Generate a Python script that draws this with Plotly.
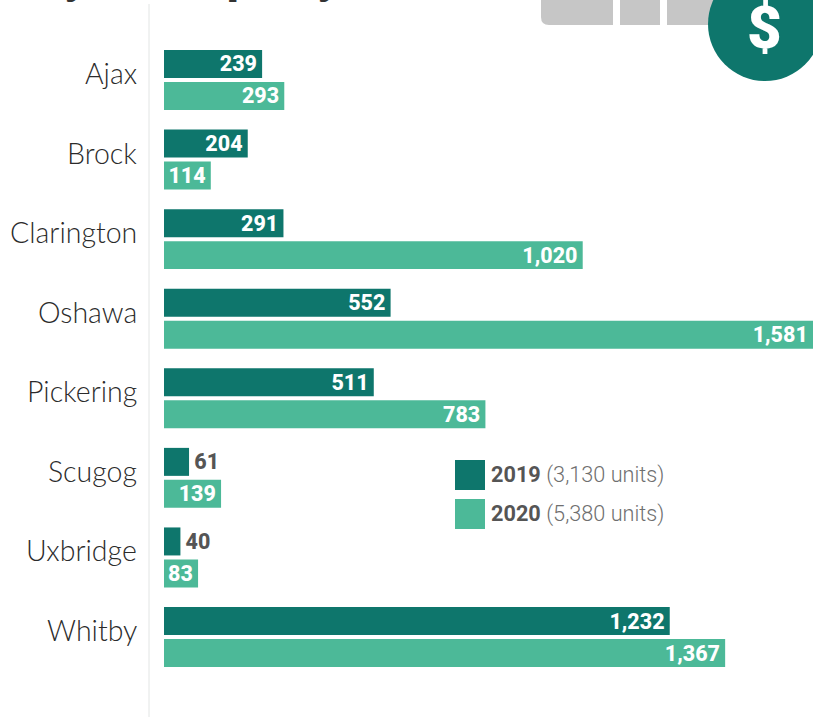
import plotly.graph_objects as go

municipalities = ["Ajax", "Brock", "Clarington", "Oshawa", "Pickering", "Scugog", "Uxbridge", "Whitby"]
units_2019 = [239, 204, 291, 552, 511, 61, 40, 1232]
units_2020 = [293, 114, 1020, 1581, 783, 139, 83, 1367]
legend_years = ["2019", "2020"]
legend_totals = ["(3,130 units)", "(5,380 units)"]

W, H = 813, 717
LEFT = 164
DARK = "#0E766C"
LIGHT = "#4CB998"
INK = "#555555"
VALUE_FONT = "Roboto"
NAME_FONT = "Lato, Inter, sans-serif"
OUTSIDE_BELOW = 100  # short bars carry their value outside the bar


def px(x):
    return (x - LEFT) / (W - LEFT)


def py(y):
    return 1 - y / H


def is_outside(v, colour):
    return v < OUTSIDE_BELOW and colour == DARK


def bar_trace(name, values, colour):
    return go.Bar(
        name=name,
        y=municipalities,
        x=values,
        orientation="h",
        marker=dict(color=colour, line=dict(width=0)),
        # hair spaces keep each value clear of the bar end
        text=[f"\u200a{v:,}" if is_outside(v, colour) else f"{v:,}\u200a" for v in values],
        textposition=["outside" if is_outside(v, colour) else "inside" for v in values],
        insidetextanchor="end",
        textangle=0,
        constraintext="none",
        textfont=dict(
            family=VALUE_FONT,
            size=21.5,
            weight=800,
            color=[INK if is_outside(v, colour) else "white" for v in values],
        ),
        cliponaxis=False,
        hoverinfo="skip",
    )


fig = go.Figure([bar_trace("2019", units_2019, DARK), bar_trace("2020", units_2020, LIGHT)])

shapes = [
    # rule beside the category names
    dict(type="line", xref="paper", yref="paper", x0=px(149), x1=px(149), y0=py(4), y1=py(717),
         line=dict(color="#E2E5E4", width=1)),
    # grey blocks and coin of the header graphic
    dict(type="path", xref="paper", yref="paper", fillcolor="#C6C6C6", line=dict(width=0),
         path=f"M {px(541)} {py(0)} L {px(541)} {py(17)} Q {px(541)} {py(25)} {px(549)} {py(25)} "
              f"L {px(613)} {py(25)} L {px(613)} {py(0)} Z"),
    dict(type="rect", xref="paper", yref="paper", x0=px(620), x1=px(660), y0=py(25), y1=py(0),
         fillcolor="#C6C6C6", line=dict(width=0)),
    dict(type="rect", xref="paper", yref="paper", x0=px(667), x1=px(715), y0=py(25), y1=py(0),
         fillcolor="#C6C6C6", line=dict(width=0)),
    dict(type="circle", xref="paper", yref="paper", x0=px(708), x1=px(822), y0=py(81), y1=py(-33),
         fillcolor=DARK, line=dict(width=0)),
]

annotations = [
    dict(text="$", xref="paper", yref="paper", x=px(764), xanchor="center", y=py(28), yanchor="middle",
         showarrow=False, font=dict(family="Roboto", size=60, weight=900, color="white")),
]

# category names sit slightly above the centre of each bar pair
for name in municipalities:
    annotations.append(dict(text=name, x=0, y=name, xref="x", yref="y", xanchor="right", yanchor="middle",
                            xshift=-25, yshift=7, showarrow=False,
                            font=dict(family=NAME_FONT, size=28.5, weight=300, color="#2b2b2b")))

# descenders of the headline above the chart
for x, letter in [(75, "y"), (239, "p"), (328, "y")]:
    annotations.append(dict(text=letter, xref="paper", yref="paper", x=px(x), xanchor="center", y=py(6),
                            yanchor="bottom", showarrow=False,
                            font=dict(family="Roboto", size=44, weight=900, color="#333333")))

for i, (year, total, colour) in enumerate(zip(legend_years, legend_totals, [DARK, LIGHT])):
    top = 460 + 39 * i
    shapes.append(dict(type="rect", xref="paper", yref="paper", x0=px(455), x1=px(485), y0=py(top + 30), y1=py(top),
                       fillcolor=colour, line=dict(width=0)))
    annotations.append(dict(
        text=f"<b>{year}</b> <span style='font-weight:300;color:#6f6f6f'>{total}</span>",
        xref="paper", yref="paper", x=px(489), y=py(top + 15), xanchor="left", yanchor="middle", showarrow=False,
        font=dict(family="Roboto", size=21.7, color=INK)))

fig.update_layout(
    width=W,
    height=H,
    autosize=False,
    margin=dict(l=LEFT, r=0, t=0, b=0),
    paper_bgcolor="white",
    plot_bgcolor="white",
    barmode="group",
    bargap=0.196,
    bargroupgap=0.125,
    showlegend=False,
    shapes=shapes,
    annotations=annotations,
    xaxis=dict(range=[0, 1581], visible=False, fixedrange=True),
    yaxis=dict(range=[8.005, -1.005], showticklabels=False, showgrid=False, zeroline=False,
               showline=False, ticks="", fixedrange=True),
)

fig.write_html("out.html", config={"displayModeBar": False})
